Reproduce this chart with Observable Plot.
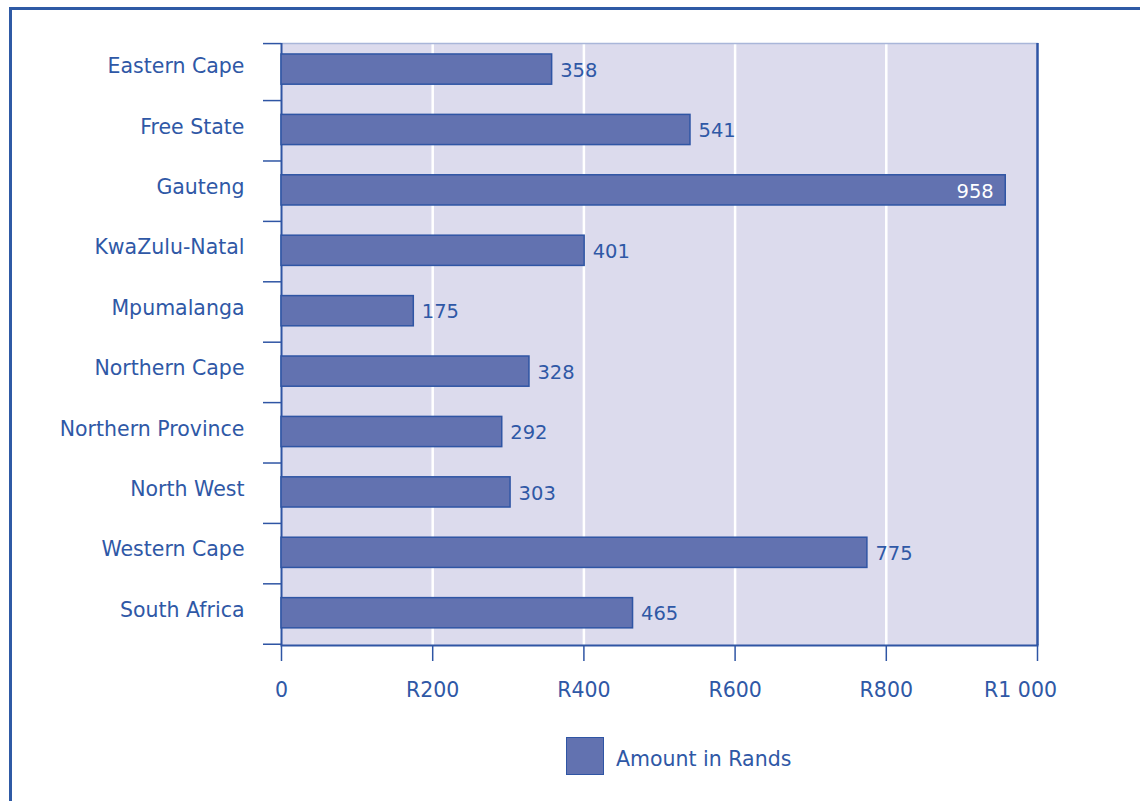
<!DOCTYPE html>
<html><head><meta charset="utf-8">
<script src="https://cdn.jsdelivr.net/npm/d3@7"></script>
<script src="https://cdn.jsdelivr.net/npm/@observablehq/plot@0.6"></script>
<style>
html,body{margin:0;padding:0;background:#fff;overflow:hidden;}
body{font-family:"DejaVu Sans",sans-serif;position:relative;width:1140px;height:801px;}
#frame{position:absolute;left:9px;top:7px;width:1300px;height:1000px;border-left:3px solid #2f5aa5;border-top:3px solid #2f5aa5;box-sizing:border-box;}
#chart{position:absolute;left:0;top:0;}
#chart svg{display:block;}
.legend{position:absolute;left:566px;top:737px;display:flex;align-items:center;font-size:20.5px;color:#2f58a6;}
.legend .sw{width:38px;height:38px;box-sizing:border-box;background:#6272b0;border:1.5px solid #2f55a4;margin-right:12px;}
.legend span{padding-top:5px;}
</style></head><body>
<div id="frame"></div>
<div id="chart"></div>
<div class="legend" id="legend"></div>
<script>
const provinces = ["Eastern Cape","Free State","Gauteng","KwaZulu-Natal","Mpumalanga","Northern Cape","Northern Province","North West","Western Cape","South Africa"];
const amounts = [358,541,958,401,175,328,292,303,775,465];
const xTicks = [0,200,400,600,800,1000];
const legendLabel = "Amount in Rands";

const data = provinces.map((p,i)=>({province:p, amount:amounts[i]}));
const textColor = "#2f58a6";
const dark = "#2f55a4";
const barFill = "#6272b0";
const fmt = d => d === 0 ? "0" : "R" + d3.format(",")(d).replace(/,/g, " ");
const font = "DejaVu Sans, sans-serif";
const lastTick = xTicks[xTicks.length - 1];

const chart = Plot.plot({
  width: 1140, height: 725,
  marginLeft: 281, marginRight: 103, marginTop: 43, marginBottom: 80,
  style: {fontFamily: font, fontSize: "20px", color: textColor, background: "transparent", overflow: "visible"},
  x: {domain: [0, 1000], label: null},
  y: {domain: provinces, paddingInner: 0.5, paddingOuter: 0.233, align: 0.39, round: false, label: null},
  marks: [
    Plot.frame({fill: "#dcdbed", stroke: null}),
    Plot.ruleX(xTicks.filter(d => d > 0 && d < 1000), {stroke: "white", strokeWidth: 2.5}),
    Plot.frame({anchor: "top", stroke: "#a9b6d9", strokeWidth: 1.5}),
    Plot.ruleX([1000], {stroke: dark, strokeWidth: 2.5}),
    Plot.ruleX([0], {stroke: dark, strokeWidth: 2}),
    Plot.frame({anchor: "bottom", stroke: dark, strokeWidth: 2}),
    Plot.barX(data, {x: "amount", y: "province", fill: barFill, stroke: dark, strokeWidth: 1.5}),
    Plot.text(data.filter(d => d.amount < 900), {x: "amount", y: "province", text: d => String(d.amount), textAnchor: "start", dx: 8, dy: 1, fill: textColor, fontSize: 19.5}),
    Plot.text(data.filter(d => d.amount >= 900), {x: "amount", y: "province", text: d => String(d.amount), textAnchor: "end", dx: -12, dy: 1, fill: "white", fontSize: 19.5}),
    Plot.axisY({tickSize: 0, tickPadding: 37, dy: -3, fill: textColor, fontSize: 20.5, label: null}),
    Plot.axisY({tickSize: 18, tickFormat: () => "", dy: 31, stroke: dark, strokeWidth: 1.5, label: null}),
    Plot.axisY(["Eastern Cape"], {tickSize: 18, tickFormat: () => "", dy: -26, stroke: dark, strokeWidth: 1.5, label: null}),
    Plot.axisX(xTicks, {tickSize: 16, tickPadding: 21, tickFormat: d => d === lastTick ? "" : fmt(d), stroke: dark, strokeWidth: 1.5, fill: textColor, fontSize: 20.5, label: null}),
    Plot.axisX([lastTick], {tickSize: 0, tickPadding: 37, dx: -17, tickFormat: fmt, fill: textColor, fontSize: 20.5, label: null})
  ]
});
document.getElementById("chart").appendChild(chart);
document.getElementById("legend").innerHTML = `<div class="sw"></div><span>${legendLabel}</span>`;
</script>
</body></html>
